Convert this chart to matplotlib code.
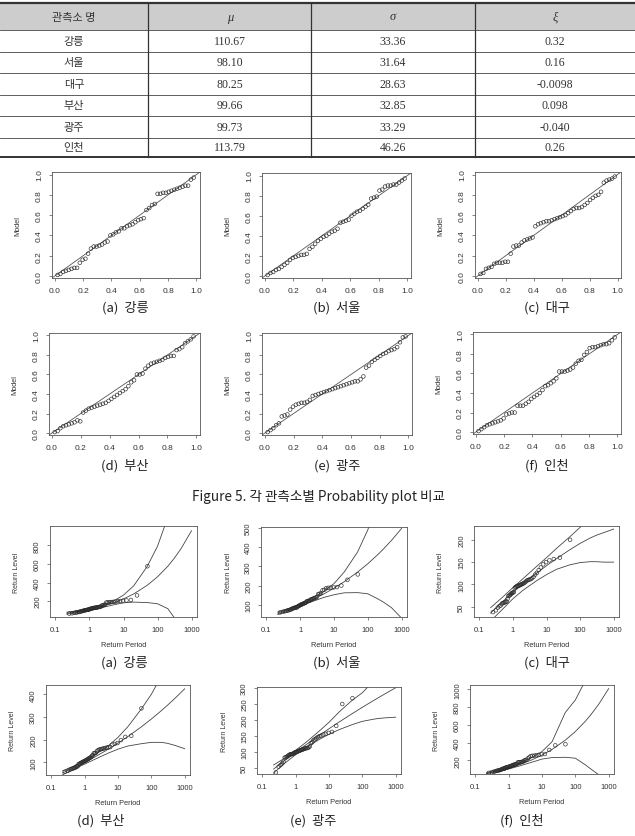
import numpy as np
import matplotlib.pyplot as plt
from matplotlib.patches import Rectangle

plt.rcParams['font.family'] = ['Liberation Sans', 'Noto Sans CJK KR', 'DejaVu Sans']

W, H = 635, 837

# table values
stations = ['강릉', '서울', '대구', '부산', '광주', '인천']
mu_vals = ['110.67', '98.10', '80.25', '99.66', '99.73', '113.79']
sigma_vals = ['33.36', '31.64', '28.63', '32.85', '33.29', '46.26']
xi_vals = ['0.32', '0.16', '-0.0098', '0.098', '-0.040', '0.26']
letters = ['a', 'b', 'c', 'd', 'e', 'f']

# probability plot: model probabilities of the 50 sorted maxima
model_a = [.01, .02, .04, .05, .06, .07, .08, .08, .13, .16, .17, .22, .27, .29, .29, .30, .31,
           .33, .34, .40, .41, .43, .44, .47, .47, .49, .50, .51, .53, .55, .56, .57, .65, .67,
           .70, .71, .81, .81, .82, .82, .83, .84, .85, .86, .87, .88, .89, .89, .95, .97]
model_b = [.01, .03, .04, .06, .07, .09, .11, .13, .16, .18, .19, .20, .21, .21, .22, .27, .29,
           .32, .35, .37, .39, .40, .42, .44, .45, .47, .53, .54, .55, .56, .60, .62, .64, .65,
           .67, .69, .71, .77, .78, .79, .85, .86, .89, .90, .90, .91, .91, .93, .95, .97]
model_c = [.02, .03, .07, .08, .09, .12, .13, .13, .13, .14, .14, .22, .29, .30, .30, .33, .35,
           .36, .37, .38, .49, .51, .52, .53, .54, .54, .55, .56, .57, .58, .59, .60, .62, .64,
           .66, .67, .67, .68, .70, .72, .75, .77, .79, .80, .83, .92, .94, .95, .96, .98]
model_d = [.01, .02, .05, .07, .08, .09, .10, .11, .13, .12, .21, .23, .25, .26, .27, .28, .29,
           .30, .31, .33, .35, .37, .39, .41, .43, .45, .48, .52, .54, .60, .60, .61, .66, .69,
           .71, .72, .73, .74, .75, .77, .78, .79, .79, .85, .86, .88, .92, .94, .96, .99]
model_e = [.01, .03, .05, .08, .10, .17, .18, .19, .24, .27, .29, .30, .31, .31, .32, .34, .38,
           .39, .40, .41, .42, .43, .44, .45, .46, .47, .48, .49, .50, .51, .52, .53, .53, .55,
           .58, .67, .69, .73, .75, .77, .79, .81, .82, .84, .85, .86, .88, .93, .98, .99]
model_f = [.01, .03, .05, .07, .08, .09, .10, .11, .12, .14, .18, .19, .20, .20, .27, .27, .27,
           .29, .31, .34, .36, .38, .40, .43, .47, .48, .50, .52, .55, .62, .62, .62, .63, .64,
           .66, .70, .73, .74, .79, .82, .86, .87, .87, .88, .89, .90, .90, .91, .94, .97]

# return level plot: sorted annual maxima
rl_a = [66, 70, 74, 77, 80, 83, 86, 88, 91, 94, 96, 99, 102, 104, 105, 107, 109, 111, 113, 118,
        120, 123, 124, 127, 128, 130, 131, 133, 135, 137, 139, 141, 152, 155, 160, 162, 185, 186,
        188, 189, 191, 193, 196, 199, 202, 205, 208, 213, 262, 575]
rl_b = [60, 63, 66, 68, 70, 72, 74, 76, 79, 81, 83, 84, 85, 86, 87, 92, 94, 96, 99, 101,
        102, 104, 106, 108, 110, 112, 118, 119, 120, 121, 126, 128, 130, 132, 135, 137, 140, 155,
        157, 160, 175, 178, 186, 188, 189, 190, 192, 200, 230, 258]
rl_c = [38, 42, 48, 51, 53, 57, 58, 59, 60, 61, 62, 68, 74, 75, 76, 78, 80, 81, 82, 83,
        92, 94, 95, 96, 97, 97, 98, 99, 100, 101, 102, 103, 105, 107, 109, 110, 111, 112, 114, 117,
        122, 126, 132, 138, 145, 150, 154, 157, 160, 200]
rl_d = [58, 62, 67, 70, 72, 74, 76, 78, 82, 82, 91, 93, 95, 97, 99, 101, 103, 104, 106, 108,
        110, 112, 114, 117, 119, 121, 124, 129, 132, 140, 140, 141, 148, 152, 155, 157, 158, 160,
        161, 163, 165, 166, 167, 178, 181, 185, 198, 212, 217, 338]
rl_e = [37, 55, 60, 65, 70, 83, 84, 85, 88, 90, 92, 93, 94, 94, 95, 96, 98, 99, 100, 101,
        102, 103, 104, 105, 106, 107, 108, 109, 110, 111, 112, 113, 113, 115, 118, 128, 131, 137,
        140, 143, 147, 150, 152, 155, 157, 160, 163, 182, 250, 268]
rl_f = [60, 66, 72, 78, 82, 85, 88, 91, 94, 99, 105, 107, 109, 110, 120, 121, 122, 125, 128, 132,
        135, 138, 141, 145, 150, 152, 155, 158, 162, 178, 178, 179, 181, 183, 186, 196, 204, 206,
        222, 233, 248, 252, 253, 258, 262, 268, 272, 318, 370, 382]

# return level curves (estimate and 95% bounds)
curve_periods = [0.217, 0.5, 1, 2, 5, 10, 20, 50, 100, 200, 300, 500, 1000]
est_a = [70.6, 89.9, 110.7, 136.5, 180.9, 224.2, 278.3, 371.0, 461.5, 574.4, 653.3, 768.1, 957.2]
up_a = [82, 98, 120, 148, 200, 265, 365, 575, 790, 1100, 1350, 1700, 2500]
lo_a = [60, 82, 102, 125, 160, 182, 190, 185, 172, 120, 30, -150, -500]
est_b = [55.6, 77.3, 98.1, 121.3, 156.2, 186.2, 219.7, 270.1, 313.5, 361.9, 392.9, 434.9, 497.5]
up_b = [62, 82, 104, 128, 170, 210, 270, 375, 490, 640, 750, 900, 1150]
lo_b = [49, 72, 92, 113, 138, 152, 162, 163, 157, 130, 112, 85, 30]
est_c = [36, 62, 82, 101, 125, 142, 158, 178, 192, 204, 210, 216, 224]
up_c = [48, 72, 93, 113, 140, 160, 181, 207, 228, 249, 262, 276, 296]
lo_c = [18, 45, 68, 87, 108, 122, 134, 144, 149, 151, 151, 150, 150]
est_d = [53.1, 77.6, 99.7, 123.2, 156.9, 184.6, 214.0, 256.3, 290.8, 327.8, 350.8, 380.9, 424.1]
up_d = [62, 85, 107, 132, 172, 210, 258, 335, 400, 480, 540, 630, 780]
lo_d = [45, 71, 92, 113, 140, 158, 172, 182, 188, 188, 184, 175, 160]
est_e = [47.3, 76.3, 99.7, 122.4, 151.7, 173.0, 193.7, 220.3, 239.7, 258.7, 269.5, 282.9, 300.6]
up_e = [60, 83, 106, 130, 165, 193, 225, 262, 285, 318, 340, 370, 410]
lo_e = [35, 68, 92, 113, 139, 156, 170, 186, 196, 202, 205, 207, 209]
est_f = [55.5, 84.4, 113.8, 148.9, 206.2, 259.6, 323.7, 427.9, 525.0, 641.4, 719.8, 831.3, 1008]
up_f = [62, 95, 125, 165, 235, 300, 410, 740, 880, 1100, 1350, 1700, 2300]
lo_f = [50, 76, 103, 135, 180, 215, 232, 235, 225, 150, 100, 40, -200]

rl_yticks = [[200, 400, 600, 800], [100, 200, 300, 400, 500], [50, 100, 150, 200],
             [100, 200, 300, 400], [50, 100, 150, 200, 250, 300], [200, 400, 600, 800, 1000]]
rl_ylims = [(30, 1007), (36, 505), (27, 231), (44, 441), (32, 303), (47, 1049)]

models = [model_a, model_b, model_c, model_d, model_e, model_f]
levels = [rl_a, rl_b, rl_c, rl_d, rl_e, rl_f]
ests = [est_a, est_b, est_c, est_d, est_e, est_f]
ups = [up_a, up_b, up_c, up_d, up_e, up_f]
los = [lo_a, lo_b, lo_c, lo_d, lo_e, lo_f]

# pixel boxes (left, top, right, bottom)
prob_boxes = [(52, 173, 200, 279), (262, 174, 411, 279), (475, 173, 621, 279),
              (49, 334, 200, 436), (262, 334, 412, 436), (473, 333, 621, 435)]
rl_boxes = [(50, 527, 197, 618), (261, 528, 407, 618), (474, 527, 619, 618),
            (46, 686, 190, 776), (257, 688, 401, 775), (470, 686, 614, 775)]
cap_x = [125, 337, 547, 125, 337, 547]
rl_cap_x = [124, 337, 547, 101, 313, 522]

fig = plt.figure(figsize=(W / 100, H / 100), dpi=100)
ink = '#2a2a2a'
kr = ['Noto Sans CJK KR', 'DejaVu Sans']


def box(l, t, r, b):
    return fig.add_axes([l / W, 1 - b / H, (r - l) / W, (b - t) / H])


def ftext(x, y, s, **kw):
    fig.text(x / W, 1 - y / H, s, ha='center', va='center', **kw)


def style(ax, size):
    for sp in ax.spines.values():
        sp.set_color('#555555')
        sp.set_linewidth(0.6)
    ax.tick_params(direction='out', length=2.2, width=0.5, colors='#555555',
                   labelcolor='#333333', labelsize=size, pad=4.2)
    ax.tick_params(axis='y', labelrotation=90)
    for lab in ax.get_yticklabels():
        lab.set_va('center')


# ---- table ----
tab = box(0, 0, W, 162)
tab.set_xlim(0, W)
tab.set_ylim(162, 0)
tab.axis('off')
tab.add_patch(Rectangle((0, 4), W, 27, color='#cdcdcd', lw=0))
row_edges = [31, 52.5, 74, 95.5, 117, 138.5, 158]
for y in row_edges[:-1]:
    tab.plot([0, W], [y, y], color='#444444', lw=0.6)
tab.plot([0, W], [4, 4], color='#333333', lw=1.6)
tab.plot([0, W], [158, 158], color='#333333', lw=1.4)
for x in [148, 311, 475]:
    tab.plot([x, x], [4, 158], color='#333333', lw=0.9)
col_x = [74, 230, 393, 555]
tab.text(col_x[0], 17.5, '관측소 명', ha='center', va='center', fontsize=8,
         family=kr, color='#333333')
for cx, sym in zip(col_x[1:], ['μ', 'σ', 'ξ']):
    tab.text(cx, 17.5, sym, ha='center', va='center', fontsize=9,
             family=['Liberation Serif'], style='italic', color='#333333')
for i in range(len(stations)):
    yc = (row_edges[i] + row_edges[i + 1]) / 2
    tab.text(col_x[0], yc, stations[i], ha='center', va='center', fontsize=8,
             family=kr, color='#333333')
    for cx, v in zip(col_x[1:], [mu_vals[i], sigma_vals[i], xi_vals[i]]):
        tab.text(cx, yc, v, ha='center', va='center', fontsize=8.5,
                 family=['Liberation Serif'], color='#333333')

# ---- probability plots ----
for k in range(6):
    l, t, r, b = prob_boxes[k]
    ax = box(l, t, r, b)
    model = models[k]
    emp = np.arange(1, len(model) + 1) / (len(model) + 1)
    ax.axline((0, 0), slope=1, color='#555555', lw=0.6)
    ax.scatter(emp, model, s=7, facecolors='none', edgecolors=ink, linewidths=0.45, zorder=3)
    ax.set_xlim(-0.02, 1.025)
    ax.set_ylim(-0.02, 1.025)
    ticks = [0, 0.2, 0.4, 0.6, 0.8, 1.0]
    ax.set_xticks(ticks)
    ax.set_yticks(ticks)
    ax.set_xticklabels(['0.0', '0.2', '0.4', '0.6', '0.8', '1.0'])
    ax.set_yticklabels(['0.0', '0.2', '0.4', '0.6', '0.8', '1.0'])
    style(ax, 6)
    ftext(l - 34, (t + b) / 2, 'Model', fontsize=5.3, rotation=90, color='#333333')
    cy = 308 if k < 3 else 466
    ftext(cap_x[k], cy, f'({letters[k]})  {stations[k]}', fontsize=9.5, family=kr,
          color='#222222')

ftext(318, 497, 'Figure 5. 각 관측소별 Probability plot 비교', fontsize=9.8, family=kr,
      color='#222222')

# ---- return level plots ----
for k in range(6):
    l, t, r, b = rl_boxes[k]
    ax = box(l, t, r, b)
    z = levels[k]
    p = np.arange(1, len(z) + 1) / (len(z) + 1)
    ax.set_xscale('log')
    ax.plot(curve_periods, ests[k], color='#444444', lw=0.6)
    ax.plot(curve_periods, ups[k], color='#444444', lw=0.6)
    ax.plot(curve_periods, los[k], color='#444444', lw=0.6)
    ax.scatter(-1 / np.log(p), z, s=7, facecolors='none', edgecolors=ink, linewidths=0.45, zorder=3)
    ax.set_xlim(10 ** -1.16, 10 ** 3.16)
    ax.set_ylim(*rl_ylims[k])
    ax.set_xticks([0.1, 1, 10, 100, 1000])
    ax.set_xticklabels(['0.1', '1', '10', '100', '1000'])
    ax.minorticks_off()
    ax.set_yticks(rl_yticks[k])
    ax.set_yticklabels([str(v) for v in rl_yticks[k]])
    style(ax, 5.5)
    ftext(l - 33, (t + b) / 2, 'Return Level', fontsize=5, rotation=90, color='#333333')
    ftext((l + r) / 2, b + 28, 'Return Period', fontsize=5.3, color='#333333')
    cy = 663 if k < 3 else 821
    ftext(rl_cap_x[k], cy, f'({letters[k]})  {stations[k]}', fontsize=9.5, family=kr,
          color='#222222')

fig.savefig('out.png', dpi=100)
